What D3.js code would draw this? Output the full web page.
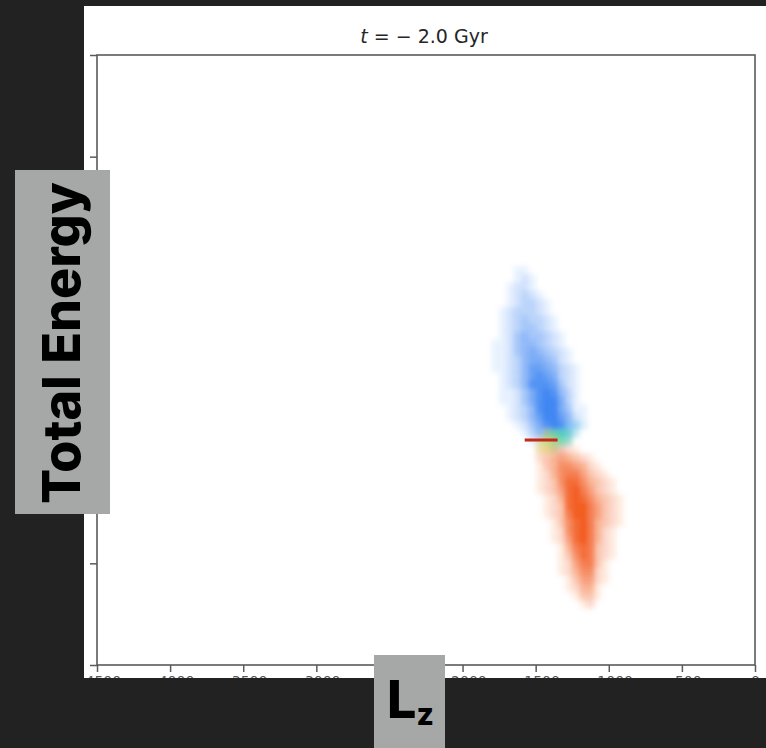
<!DOCTYPE html>
<html><head><meta charset="utf-8">
<script src="https://cdn.jsdelivr.net/npm/d3@7"></script>
<style>html,body{margin:0;padding:0;background:#222222;} svg{display:block}</style>
</head><body><svg id="c" width="766" height="748"></svg>
<script>
// ---------------- DATA ----------------
const xTicks = [-4500, -4000, -3500, -3000, -2500, -2000, -1500, -1000, -500, 0];
const yTicks = [-250000, -225000, -200000, -175000, -150000, -125000, -100000];
const titleText = "= \u2212 2.0 Gyr";
// 2D histogram bins (Lz step 50, Energy step 2000), density 0-9
const binLz0 = -1800, binLzStep = 50, binE0 = -152000, binEStep = 2000;
const blueRowStart = 0;
const blueRows = [
"000110000000000000",
"000121000000000000",
"001221000000000000",
"001232100000000000",
"001233210000000000",
"012333210000000000",
"012343321000000000",
"012344321000000000",
"012454432100000000",
"112455432100000000",
"112456543210000000",
"112356654210000000",
"112357765321000000",
"012357876321000000",
"012358887421000000",
"011246898531000000",
"011246899631000000",
"001235899641100000",
"001235799752100000",
"000124689853100000",
"000013577641000000",
"000001234210000000",
"000000112100000000"];
const orangeRowStart = 21;
const orangeRows = [
"000000001110000000",
"000000123321000000",
"000000234543210000",
"000000134665421000",
"000000124677532100",
"000000123688643210",
"000000123589753210",
"000000012489864321",
"000000012389975321",
"000000012379975321",
"000000001368974321",
"000000001268974210",
"000000001258974210",
"000000000147873210",
"000000000136873210",
"000000000125773100",
"000000000124662100",
"000000000013552100",
"000000000012441000",
"000000000001331000",
"000000000000120000"];
// transition cells: [col, row, mix(0=blue..1=orange), density]
const bridgeCells = [
[7,20,0.62,5],[8,20,0.5,6],[9,20,0.42,7],[10,20,0.4,5],[11,20,0.38,2],
[6,21,0.66,4],[7,21,0.64,6],[8,21,0.58,6],[9,21,0.45,6],[10,21,0.42,4],
[6,22,0.7,3],[7,22,0.68,4],[8,22,0.62,3],
[10,19,0.35,2],[11,19,0.35,2],[12,19,0.36,1]];
const redLine = {lzFrom: -1575, lzTo: -1350, eTop: -194300, eBottom: -195050};
const xLabel = ["L", "z"];
const yLabel = "Total Energy";

// ---------------- DRAW ----------------
const svg = d3.select("#c");
const W = 766, H = 748;
const x = d3.scaleLinear().domain([-4500, 0]).range([97, 755]);
const y = d3.scaleLinear().domain([-250000, -100000]).range([665, 55]);
const blue = "#3d85f2", orange = "#f25a1e";
const mixColor = d3.scaleLinear().domain([0, 0.35, 0.45, 0.6, 0.7, 1])
  .range([blue, "#46c8e0", "#4ddc9a", "#b5e55a", "#f5d040", orange]);
const alpha = d3.scaleLinear().domain([0, 9]).range([0, 1]).clamp(true);

svg.append("rect").attr("width", W).attr("height", H).attr("fill", "#222222");
const defs = svg.append("defs");
defs.append("clipPath").attr("id", "panel").append("rect")
  .attr("x", 84).attr("y", 6).attr("width", 682).attr("height", 672);
const f = defs.append("filter").attr("id", "blur").attr("x", "-20%").attr("y", "-20%").attr("width", "140%").attr("height", "140%");
f.append("feGaussianBlur").attr("stdDeviation", 2.6);
const f2 = defs.append("filter").attr("id", "blur2");
f2.append("feGaussianBlur").attr("stdDeviation", 0.7);

const panel = svg.append("g").attr("clip-path", "url(#panel)");
panel.append("rect").attr("x", 84).attr("y", 6).attr("width", 682).attr("height", 672).attr("fill", "#ffffff");

function cellsFrom(rows, start) {
  const out = [];
  rows.forEach((r, k) => {
    for (let i = 0; i < r.length; i++) {
      const d = +r[i];
      if (d > 0) out.push({i: i, j: start + k, d: d});
    }
  });
  return out;
}
function cellX(i) { return x(binLz0 + i * binLzStep); }
function cellW(i) { return x(binLz0 + (i + 1) * binLzStep) - x(binLz0 + i * binLzStep); }
function cellY(j) { return y(binE0 - j * binEStep); }
function cellH(j) { return y(binE0 - (j + 1) * binEStep) - y(binE0 - j * binEStep); }

const hist = panel.append("g").attr("filter", "url(#blur)");
function drawCells(data, colorFn) {
  hist.append("g").selectAll("rect").data(data).join("rect")
    .attr("x", c => cellX(c.i)).attr("y", c => cellY(c.j))
    .attr("width", c => cellW(c.i) + 0.3).attr("height", c => cellH(c.j) + 0.3)
    .attr("fill", colorFn).attr("fill-opacity", c => alpha(c.d));
}
drawCells(cellsFrom(blueRows, blueRowStart), () => blue);
drawCells(cellsFrom(orangeRows, orangeRowStart), () => orange);
drawCells(bridgeCells.map(b => ({i: b[0], j: b[1], m: b[2], d: b[3]})), c => mixColor(c.m));

panel.append("rect")
  .attr("x", x(redLine.lzFrom)).attr("y", y(redLine.eTop))
  .attr("width", x(redLine.lzTo) - x(redLine.lzFrom))
  .attr("height", y(redLine.eBottom) - y(redLine.eTop))
  .attr("fill", "#c42a1e").attr("filter", "url(#blur2)");

// axes
const axCol = "#5a5a5a";
const gx = panel.append("g").attr("transform", "translate(0,665)")
  .call(d3.axisBottom(x).tickValues(xTicks).tickSize(7).tickPadding(4).tickFormat(d3.format("d")));
const gy = panel.append("g").attr("transform", "translate(97,0)")
  .call(d3.axisLeft(y).tickValues(yTicks).tickSize(7).tickPadding(12).tickFormat(d3.format("d")));
[gx, gy].forEach(g => {
  g.select(".domain").remove();
  g.selectAll("line").attr("stroke", axCol).attr("stroke-width", 1.5);
  g.selectAll("text").attr("fill", "#555").style("font-family", "DejaVu Sans").style("font-size", "14px");
});
panel.append("rect").attr("x", 97).attr("y", 55).attr("width", 658).attr("height", 610)
  .attr("fill", "none").attr("stroke", axCol).attr("stroke-width", 1.6);

// title
const t = panel.append("text").attr("x", 424).attr("y", 43).attr("text-anchor", "middle")
  .style("font-family", "DejaVu Sans").style("font-size", "19px").attr("fill", "#262626");
t.append("tspan").style("font-style", "italic").text("t ");
t.append("tspan").text(titleText);

// overlay label boxes
svg.append("rect").attr("x", 15).attr("y", 170).attr("width", 95).attr("height", 344).attr("fill", "#a5a8a7");
svg.append("text").attr("transform", "translate(80,343) rotate(-90)").attr("text-anchor", "middle")
  .style("font-family", "Inter").style("font-weight", 800).style("font-size", "52px").attr("fill", "#000")
  .text(yLabel);
svg.append("rect").attr("x", 374).attr("y", 655).attr("width", 71).attr("height", 93).attr("fill", "#a5a8a7");
const lz = svg.append("text").attr("x", 387).attr("y", 718)
  .style("font-family", "Inter").style("font-weight", 800).attr("fill", "#000");
lz.append("tspan").style("font-size", "52px").text(xLabel[0]);
lz.append("tspan").style("font-size", "30px").attr("dy", 7).text(xLabel[1]);
</script></body></html>
